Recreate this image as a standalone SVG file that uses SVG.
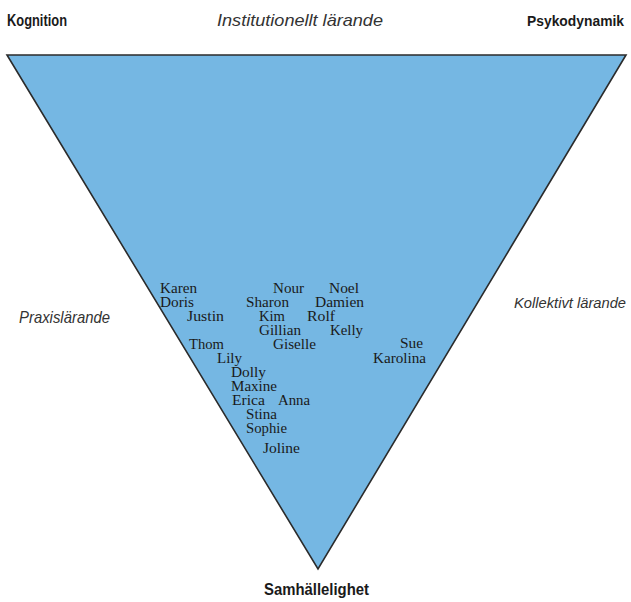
<svg xmlns="http://www.w3.org/2000/svg" width="631" height="602" viewBox="0 0 631 602">
<style>
.lbl{font-family:"Liberation Sans Narrow","Liberation Sans",Arial,sans-serif;font-size:17px;fill:#1a1a1a}
.b{font-weight:bold}
.i{font-style:italic;fill:#333}
.r{font-size:15px}
.nm{font-family:"Liberation Serif","Times New Roman",serif;font-size:14px;fill:#1a1a1a}
</style>
<rect width="631" height="602" fill="#ffffff"/>
<g id="triangle">
<polygon points="7,55 626,55 318,569" fill="#75b7e3" stroke="#2b2b2b" stroke-width="1.6" stroke-linejoin="miter"/>
</g>
<g id="labels">
<text class="lbl b" x="7" y="26" textLength="60" lengthAdjust="spacingAndGlyphs">Kognition</text>
<text class="lbl i" x="217" y="26" textLength="166" lengthAdjust="spacingAndGlyphs">Institutionellt lärande</text>
<text class="lbl b r" x="527" y="26" textLength="97" lengthAdjust="spacingAndGlyphs">Psykodynamik</text>
<text class="lbl i" x="19" y="323" textLength="91" lengthAdjust="spacingAndGlyphs">Praxislärande</text>
<text class="lbl i r" x="514" y="308" textLength="112" lengthAdjust="spacingAndGlyphs">Kollektivt lärande</text>
<text class="lbl b" x="264" y="595" textLength="105" lengthAdjust="spacingAndGlyphs">Samhällelighet</text>
</g>
<g id="names">
<text class="nm" x="160" y="293" textLength="37" lengthAdjust="spacingAndGlyphs">Karen</text>
<text class="nm" x="160" y="307" textLength="34" lengthAdjust="spacingAndGlyphs">Doris</text>
<text class="nm" x="187" y="321" textLength="37" lengthAdjust="spacingAndGlyphs">Justin</text>
<text class="nm" x="273" y="293" textLength="31" lengthAdjust="spacingAndGlyphs">Nour</text>
<text class="nm" x="329" y="293" textLength="30" lengthAdjust="spacingAndGlyphs">Noel</text>
<text class="nm" x="246" y="307" textLength="43" lengthAdjust="spacingAndGlyphs">Sharon</text>
<text class="nm" x="315" y="307" textLength="49" lengthAdjust="spacingAndGlyphs">Damien</text>
<text class="nm" x="259" y="321" textLength="26" lengthAdjust="spacingAndGlyphs">Kim</text>
<text class="nm" x="307" y="321" textLength="28" lengthAdjust="spacingAndGlyphs">Rolf</text>
<text class="nm" x="259" y="335" textLength="42" lengthAdjust="spacingAndGlyphs">Gillian</text>
<text class="nm" x="330" y="335" textLength="33" lengthAdjust="spacingAndGlyphs">Kelly</text>
<text class="nm" x="189" y="349" textLength="35" lengthAdjust="spacingAndGlyphs">Thom</text>
<text class="nm" x="273" y="349" textLength="43" lengthAdjust="spacingAndGlyphs">Giselle</text>
<text class="nm" x="217" y="363" textLength="25" lengthAdjust="spacingAndGlyphs">Lily</text>
<text class="nm" x="231" y="377" textLength="35" lengthAdjust="spacingAndGlyphs">Dolly</text>
<text class="nm" x="231" y="391" textLength="46" lengthAdjust="spacingAndGlyphs">Maxine</text>
<text class="nm" x="232" y="405" textLength="33" lengthAdjust="spacingAndGlyphs">Erica</text>
<text class="nm" x="278" y="405" textLength="32" lengthAdjust="spacingAndGlyphs">Anna</text>
<text class="nm" x="246" y="419" textLength="31" lengthAdjust="spacingAndGlyphs">Stina</text>
<text class="nm" x="246" y="433" textLength="41" lengthAdjust="spacingAndGlyphs">Sophie</text>
<text class="nm" x="263" y="453" textLength="37" lengthAdjust="spacingAndGlyphs">Joline</text>
<text class="nm" x="400" y="348" textLength="23" lengthAdjust="spacingAndGlyphs">Sue</text>
<text class="nm" x="373" y="363" textLength="53" lengthAdjust="spacingAndGlyphs">Karolina</text>
</g>
</svg>
